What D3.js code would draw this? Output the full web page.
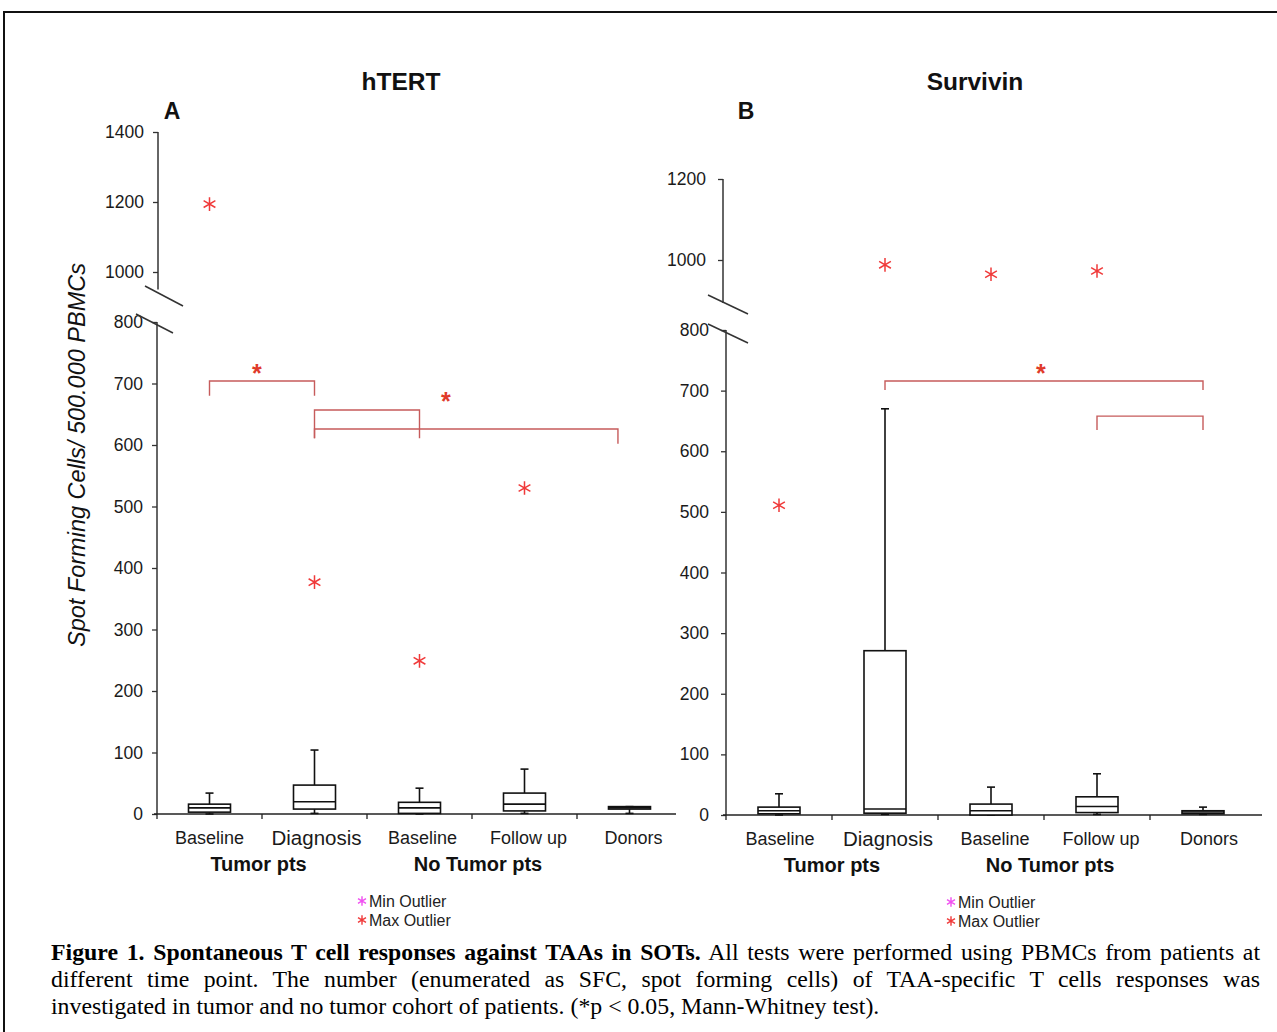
<!DOCTYPE html>
<html>
<head>
<meta charset="utf-8">
<script src="https://cdn.jsdelivr.net/npm/d3@7"></script>
<style>
  body { margin: 0; background: #fff; }
  #wrap { position: relative; width: 1277px; height: 1032px; overflow: hidden; }
  .cap { position: absolute; left: 51px; width: 1209px; font-family: "Liberation Serif", "Times New Roman", serif;
         font-size: 23.8px; line-height: 27px; color: #000; white-space: nowrap; }
  .just { text-align: justify; text-align-last: justify; }
</style>
</head>
<body>
<div id="wrap"></div>
<script>
// categories and groups
const categories = ["Baseline", "Diagnosis", "Baseline", "Follow up", "Donors"];
const groups = ["Tumor pts", "No Tumor pts"];

// hTERT box stats (SFC / 500.000 PBMCs)
const htertMin = [0, 1, 0, 1, 1];
const htertQ1 = [3, 8, 1, 5, 8];
const htertMed = [10, 20, 10, 16, 10];
const htertQ3 = [16, 47, 19, 34, 12];
const htertMax = [34, 104, 42, 73, 12];
const htertOutliers = [1194, 377, 249, 530, null];

// Survivin box stats
const survMin = [0, 1, 0, 1, 1];
const survQ1 = [2, 3, 0, 4, 2];
const survMed = [7, 10, 7, 14, 5];
const survQ3 = [13, 271, 18, 30, 7];
const survMax = [35, 670, 46, 68, 13];
const survOutliers = [511, 988, 965, 973, null];

// significance brackets: [from idx, to idx, top value, left leg end, right leg end]
const htertBrackets = [[0, 1, 704, 680, 680], [1, 2, 657, 611, 611], [1, 3.89, 626, 611, 602]];
const htertStars = [[0.45, 725], [2.25, 680]];
const survBrackets = [[1, 4, 716, 701, 701], [3, 4, 658, 635, 635]];
const survStars = [[2.47, 738]];

// tick values
const lowTicks = [0, 100, 200, 300, 400, 500, 600, 700, 800];
const htertHighTicks = [1000, 1200, 1400];
const survHighTicks = [1000, 1200];

const svg = d3.select("#wrap").append("svg")
  .attr("width", 1277).attr("height", 1032)
  .style("position", "absolute").style("left", 0).style("top", 0);

svg.append("rect").attr("width", 1277).attr("height", 1032).attr("fill", "#fff");
// frame
svg.append("rect")
  .attr("x", 4).attr("y", 12).attr("width", 1300).attr("height", 1100)
  .attr("fill", "none").attr("stroke", "#111").attr("stroke-width", 2);

const sans = "Liberation Sans, Arial, sans-serif";
const redBracket = "#c65b5b";
const outRed = "#f03a3a";

function drawPanel(cfg) {
  const g = svg.append("g");
  const x = d3.scaleBand().domain(d3.range(5)).range([cfg.x0, cfg.x0 + 5 * cfg.band]).paddingInner(0).paddingOuter(0);
  const xc = i => cfg.x0 + (i + 0.5) * cfg.band;
  const yLow = d3.scaleLinear().domain([0, 800]).range(cfg.lowRange);
  const yHigh = d3.scaleLinear().domain(cfg.highDomain).range(cfg.highRange);
  const y = v => v >= 900 ? yHigh(v) : yLow(v);

  // y axes
  const axLow = g.append("g").attr("transform", `translate(${cfg.axisXLow},0)`)
    .call(d3.axisLeft(yLow).tickValues(lowTicks).tickSize(5).tickPadding(cfg.pad).tickFormat(d3.format("d")));
  const axHigh = g.append("g").attr("transform", `translate(${cfg.axisXHigh},0)`)
    .call(d3.axisLeft(yHigh).tickValues(cfg.highTicks).tickSize(5).tickPadding(cfg.pad).tickFormat(d3.format("d")));
  [axLow, axHigh].forEach(a => {
    a.select(".domain").remove();
    a.selectAll("line").attr("stroke", "#333").attr("stroke-width", 1.3);
    a.selectAll("text").attr("font-family", sans).attr("font-size", 17.5).attr("fill", "#1a1a1a");
  });
  g.append("line").attr("x1", cfg.axisXLow).attr("x2", cfg.axisXLow)
    .attr("y1", yLow(800)).attr("y2", yLow(0)).attr("stroke", "#333").attr("stroke-width", 1.5);
  g.append("line").attr("x1", cfg.axisXHigh).attr("x2", cfg.axisXHigh)
    .attr("y1", yHigh(cfg.highDomain[1])).attr("y2", yHigh(cfg.highBottom)).attr("stroke", "#333").attr("stroke-width", 1.5);

  // axis break marks
  cfg.breaks.forEach(b => {
    g.append("line").attr("x1", b[0]).attr("y1", b[1]).attr("x2", b[2]).attr("y2", b[3])
      .attr("stroke", "#333").attr("stroke-width", 1.5);
  });

  // x axis
  const y0 = yLow(0);
  g.append("line").attr("x1", cfg.axisXLow - 3).attr("x2", cfg.xEnd)
    .attr("y1", y0).attr("y2", y0).attr("stroke", "#222").attr("stroke-width", 1.6);
  g.selectAll(".xt").data(d3.range(5)).join("line")
    .attr("x1", d => x(d)).attr("x2", d => x(d))
    .attr("y1", y0).attr("y2", y0 + 5).attr("stroke", "#222").attr("stroke-width", 1.3);

  g.selectAll(".xl").data(categories).join("text")
    .attr("x", (d, i) => xc(i) + cfg.labelShift[i])
    .attr("y", (d, i) => i === 1 ? y0 + 31 : y0 + 30)
    .attr("text-anchor", "middle")
    .attr("font-family", sans)
    .attr("font-size", (d, i) => i === 1 ? 20.5 : 18)
    .attr("fill", "#1a1a1a")
    .text(d => d);

  g.selectAll(".gl").data(groups).join("text")
    .attr("x", (d, i) => xc(cfg.groupPos[i]))
    .attr("y", y0 + 57)
    .attr("text-anchor", "middle")
    .attr("font-family", sans).attr("font-weight", "bold").attr("font-size", 20)
    .attr("fill", "#111")
    .text(d => d);

  // boxes
  const boxW = 42, capW = 8;
  const s = cfg.stats;
  d3.range(5).forEach(i => {
    const cx = xc(i);
    const bx = g.append("g").attr("stroke", "#111").attr("stroke-width", 1.6).attr("fill", "none");
    bx.append("line").attr("x1", cx).attr("x2", cx).attr("y1", yLow(s.max[i])).attr("y2", yLow(s.q3[i]));
    bx.append("line").attr("x1", cx).attr("x2", cx).attr("y1", yLow(s.q1[i])).attr("y2", yLow(s.min[i]));
    bx.append("line").attr("x1", cx - capW / 2).attr("x2", cx + capW / 2).attr("y1", yLow(s.max[i])).attr("y2", yLow(s.max[i]));
    bx.append("line").attr("x1", cx - capW / 2).attr("x2", cx + capW / 2).attr("y1", yLow(s.min[i])).attr("y2", yLow(s.min[i]));
    bx.append("rect").attr("x", cx - boxW / 2).attr("width", boxW)
      .attr("y", yLow(s.q3[i])).attr("height", yLow(s.q1[i]) - yLow(s.q3[i]))
      .attr("fill", "#fff");
    bx.append("line").attr("x1", cx - boxW / 2).attr("x2", cx + boxW / 2)
      .attr("y1", yLow(s.med[i])).attr("y2", yLow(s.med[i]));
  });

  // outliers
  const star = d3.symbol().type(d3.symbolAsterisk).size(130);
  g.selectAll(".out").data(s.out.map((v, i) => [i, v]).filter(d => d[1] != null)).join("path")
    .attr("d", star)
    .attr("transform", d => `translate(${xc(d[0])},${y(d[1])})`)
    .attr("fill", "none").attr("stroke", outRed).attr("stroke-width", 1.5);

  // significance brackets
  const xi = v => cfg.x0 + (v + 0.5) * cfg.band;
  cfg.brackets.forEach(b => {
    g.append("path")
      .attr("d", `M${xi(b[0])},${yLow(b[3])}V${yLow(b[2])}H${xi(b[1])}V${yLow(b[4])}`)
      .attr("fill", "none").attr("stroke", redBracket).attr("stroke-width", 1.4);
  });
  cfg.stars.forEach(st => {
    g.append("text").attr("x", xi(st[0])).attr("y", yLow(st[1]) + 14)
      .attr("text-anchor", "middle").attr("font-family", sans).attr("font-weight", "bold")
      .attr("font-size", 25).attr("fill", "#e03a2a").text("*");
  });

  // titles
  g.append("text").attr("x", cfg.titleX).attr("y", 90).attr("text-anchor", "middle")
    .attr("font-family", sans).attr("font-weight", "bold").attr("font-size", 24.5).attr("fill", "#111")
    .text(cfg.title);
  g.append("text").attr("x", cfg.letterX).attr("y", 119).attr("text-anchor", "middle")
    .attr("font-family", sans).attr("font-weight", "bold").attr("font-size", 23).attr("fill", "#111")
    .text(cfg.letter);

  // legend
  const leg = [["Min Outlier", "#f050f0"], ["Max Outlier", outRed]];
  const smallStar = d3.symbol().type(d3.symbolAsterisk).size(60);
  leg.forEach((l, k) => {
    const ly = cfg.legendY + k * 19;
    g.append("path").attr("d", smallStar).attr("transform", `translate(${cfg.legendX},${ly})`)
      .attr("fill", "none").attr("stroke", l[1]).attr("stroke-width", 1.4);
    g.append("text").attr("x", cfg.legendX + 7).attr("y", ly + 6)
      .attr("font-family", sans).attr("font-size", 16).attr("fill", "#222").text(l[0]);
  });
}

drawPanel({
  title: "hTERT", letter: "A", titleX: 401, letterX: 172,
  x0: 157, band: 105, xEnd: 676, axisXLow: 157, axisXHigh: 158, pad: 9,
  lowRange: [814, 322], highDomain: [1000, 1400], highRange: [272, 132], highBottom: 950, highTicks: htertHighTicks,
  breaks: [[145, 286, 183, 306], [136, 314, 173, 333]],
  labelShift: [0, 2, 3, 4, 4], groupPos: [0.467, 2.557],
  stats: { min: htertMin, q1: htertQ1, med: htertMed, q3: htertQ3, max: htertMax, out: htertOutliers },
  brackets: htertBrackets, stars: htertStars,
  legendX: 362, legendY: 901
});

drawPanel({
  title: "Survivin", letter: "B", titleX: 975, letterX: 746,
  x0: 726, band: 106, xEnd: 1262, axisXLow: 726, axisXHigh: 723, pad: 12,
  lowRange: [815, 330], highDomain: [1000, 1200], highRange: [260, 179], highBottom: 894, highTicks: survHighTicks,
  breaks: [[708, 295, 748, 314], [708, 324, 748, 343]],
  labelShift: [1, 3, 4, 4, 6], groupPos: [0.5, 2.557],
  stats: { min: survMin, q1: survQ1, med: survMed, q3: survQ3, max: survMax, out: survOutliers },
  brackets: survBrackets, stars: survStars,
  legendX: 951, legendY: 902
});

// y axis title
svg.append("text")
  .attr("transform", "translate(85,455) rotate(-90)")
  .attr("text-anchor", "middle")
  .attr("font-family", sans).attr("font-style", "italic").attr("font-size", 23.5).attr("fill", "#111")
  .text("Spot Forming Cells/ 500.000 PBMCs");

// caption
const wrap = d3.select("#wrap");
const capLines = [
  ["<b>Figure 1. Spontaneous T cell responses against TAAs in SOTs.</b> All tests were performed using PBMCs from patients at", true],
  ["different time point. The number (enumerated as SFC, spot forming cells) of TAA-specific T cells responses was", true],
  ["investigated in tumor and no tumor cohort of patients. (*p &lt; 0.05, Mann-Whitney test).", false]
];
capLines.forEach((l, k) => {
  wrap.append("div").attr("class", "cap" + (l[1] ? " just" : ""))
    .style("top", (939 + k * 27) + "px")
    .html(l[0]);
});
</script>
</body>
</html>
